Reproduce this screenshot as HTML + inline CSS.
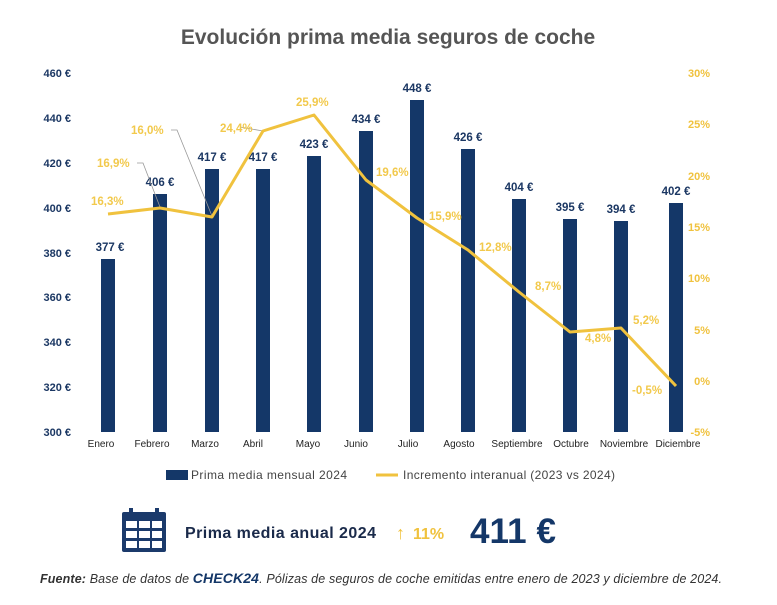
<!DOCTYPE html>
<html><head><meta charset="utf-8"><style>
body{margin:0;background:#fff;width:777px;height:600px;overflow:hidden;font-family:"Liberation Sans",sans-serif}
</style></head><body>
<svg width="777" height="600" xmlns="http://www.w3.org/2000/svg" font-family="Liberation Sans, sans-serif">
<text x="388" y="44" text-anchor="middle" font-size="21" font-weight="bold" fill="#555">Evolución prima media seguros de coche</text>
<g font-size="11" font-weight="bold" fill="#1b3763" text-anchor="end">
<text x="71" y="77">460 €</text><text x="71" y="122">440 €</text><text x="71" y="167">420 €</text><text x="71" y="212">400 €</text><text x="71" y="257">380 €</text><text x="71" y="301">360 €</text><text x="71" y="346">340 €</text><text x="71" y="391">320 €</text><text x="71" y="436">300 €</text>
</g>
<g font-size="11" font-weight="bold" fill="#f0c23e" text-anchor="end">
<text x="710" y="77">30%</text><text x="710" y="128">25%</text><text x="710" y="180">20%</text><text x="710" y="231">15%</text><text x="710" y="282">10%</text><text x="710" y="334">5%</text><text x="710" y="385">0%</text><text x="710" y="436">-5%</text>
</g>
<g fill="#143768">
<rect x="101" y="259" width="14" height="173"/><rect x="153" y="194" width="14" height="238"/><rect x="205" y="169" width="14" height="263"/><rect x="256" y="169" width="14" height="263"/><rect x="307" y="156" width="14" height="276"/><rect x="359" y="131" width="14" height="301"/><rect x="410" y="100" width="14" height="332"/><rect x="461" y="149" width="14" height="283"/><rect x="512" y="199" width="14" height="233"/><rect x="563" y="219" width="14" height="213"/><rect x="614" y="221" width="14" height="211"/><rect x="669" y="203" width="14" height="229"/>
</g>
<g font-size="11.5" font-weight="bold" fill="#1b3763" text-anchor="middle">
<text x="110" y="251">377 €</text><text x="160" y="186">406 €</text><text x="212" y="161">417 €</text><text x="263" y="161">417 €</text><text x="314" y="148">423 €</text><text x="366" y="123">434 €</text><text x="417" y="92">448 €</text><text x="468" y="141">426 €</text><text x="519" y="191">404 €</text><text x="570" y="211">395 €</text><text x="621" y="213">394 €</text><text x="676" y="195">402 €</text>
</g>
<g stroke="#999" stroke-width="0.8" fill="none">
<polyline points="137,163 143,163 160,207"/><polyline points="171,130 177,130 212,216"/><polyline points="240,127 263,131"/>
</g>
<polyline fill="none" stroke="#f0c23e" stroke-width="3" stroke-linejoin="round" points="108,214 160,208 212,217 263,131 314,115 366,180 417,218 468,250 519,292 570,332 621,328 676,386"/>
<g font-size="11.5" font-weight="bold" fill="#f2c94c">
<text x="91" y="205">16,3%</text><text x="97" y="167">16,9%</text><text x="131" y="134">16,0%</text><text x="220" y="132">24,4%</text><text x="296" y="106">25,9%</text><text x="376" y="176">19,6%</text><text x="429" y="220">15,9%</text><text x="479" y="251">12,8%</text><text x="535" y="290">8,7%</text><text x="585" y="342">4,8%</text><text x="633" y="324">5,2%</text><text x="632" y="394">-0,5%</text>
</g>
<g font-size="10" fill="#222" text-anchor="middle">
<text x="101" y="447">Enero</text><text x="152" y="447">Febrero</text><text x="205" y="447">Marzo</text><text x="253" y="447">Abril</text><text x="308" y="447">Mayo</text><text x="356" y="447">Junio</text><text x="408" y="447">Julio</text><text x="459" y="447">Agosto</text><text x="517" y="447">Septiembre</text><text x="571" y="447">Octubre</text><text x="624" y="447">Noviembre</text><text x="678" y="447">Diciembre</text>
</g>
<rect x="166" y="470" width="22" height="10" fill="#143768"/>
<text x="191" y="479" font-size="12" fill="#444" textLength="156">Prima media mensual 2024</text>
<line x1="376" y1="475" x2="398" y2="475" stroke="#f0c23e" stroke-width="3"/>
<text x="403" y="479" font-size="12" fill="#444" textLength="212">Incremento interanual (2023 vs 2024)</text>
<g fill="#1b3a6b">
<rect x="122" y="512" width="44" height="40" rx="2"/>
</g>
<g fill="#fff">
<rect x="126" y="521" width="11" height="7"/><rect x="139" y="521" width="11" height="7"/><rect x="152" y="521" width="10" height="7"/>
<rect x="126" y="531" width="11" height="7"/><rect x="139" y="531" width="11" height="7"/><rect x="152" y="531" width="10" height="7"/>
<rect x="126" y="541" width="11" height="7"/><rect x="139" y="541" width="11" height="7"/><rect x="152" y="541" width="10" height="7"/>
<rect x="129" y="508" width="4" height="8" fill="#1b3a6b"/><rect x="155" y="508" width="4" height="8" fill="#1b3a6b"/>
</g>
<text x="185" y="538" font-size="16" font-weight="bold" fill="#1a2a4a" textLength="191">Prima media anual 2024</text>
<text x="396" y="539" font-size="18" font-weight="bold" fill="#f0c23e">↑</text>
<text x="413" y="539" font-size="16" font-weight="bold" fill="#f0c23e">11%</text>
<text x="470" y="543" font-size="35" font-weight="bold" fill="#143768" textLength="86">411 €</text>
<text x="40" y="583" font-size="12.5" font-style="italic" fill="#333" textLength="682"><tspan font-weight="bold">Fuente:</tspan> Base de datos de <tspan font-weight="bold" fill="#143768" font-size="14">CHECK24</tspan>. Pólizas de seguros de coche emitidas entre enero de 2023 y diciembre de 2024.</text>
</svg>
</body></html>
